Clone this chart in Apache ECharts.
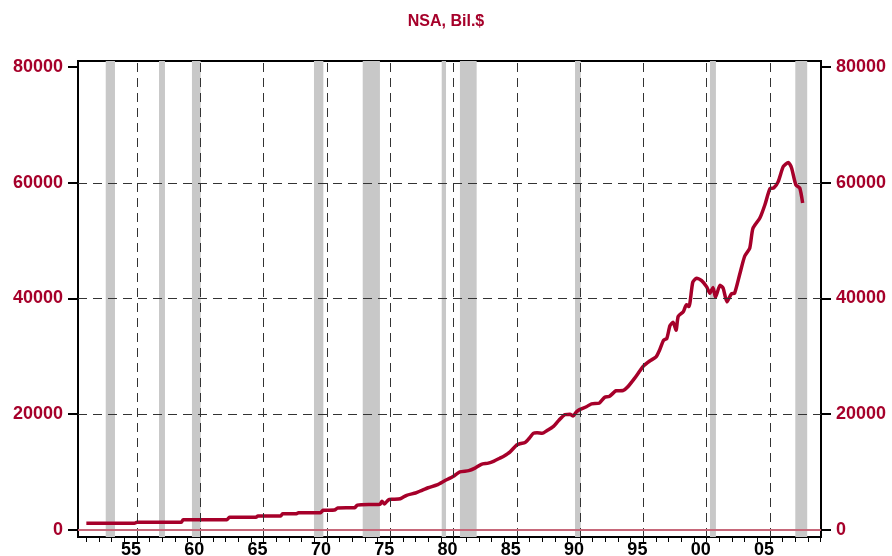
<!DOCTYPE html>
<html>
<head>
<meta charset="utf-8">
<script src="https://cdn.jsdelivr.net/npm/echarts@6/dist/echarts.min.js"></script>
<style>
  html, body { margin: 0; padding: 0; background: #fff; }
  #chart { width: 892px; height: 556px; }
</style>
</head>
<body>
<div id="chart"></div>
<script>
// time in decimal years, value in Bil.$
const years = [
  1951.0, 1954.8, 1955.0, 1958.5, 1958.65, 1962.1, 1962.3, 1964.4, 1964.55, 1966.35,
  1966.5, 1967.6, 1967.75, 1969.5, 1969.7, 1970.6, 1970.85, 1972.2, 1972.4, 1973.6,
  1974.2, 1974.35, 1974.55, 1974.85, 1975.15, 1975.8, 1976.3, 1977.0, 1977.4, 1978.0,
  1978.7, 1979.3, 1980.0, 1980.5, 1981.2, 1981.7, 1982.2, 1982.75, 1983.2, 1983.65,
  1984.0, 1984.45, 1985.0, 1985.3, 1985.65, 1986.0, 1986.3, 1986.6, 1987.0, 1987.4,
  1987.9, 1988.3, 1988.8, 1989.2, 1989.45, 1989.7, 1989.95, 1990.5, 1990.9, 1991.5,
  1991.95, 1992.3, 1992.85, 1993.4, 1993.75, 1994.3, 1995.0, 1995.5, 1996.0, 1996.3,
  1996.6, 1996.85, 1997.1, 1997.35, 1997.58, 1997.75, 1998.15, 1998.4, 1998.6, 1998.9,
  1999.2, 1999.6, 2000.0, 2000.25, 2000.5, 2000.7, 2001.05, 2001.3, 2001.6, 2001.95,
  2002.2, 2002.6, 2003.0, 2003.4, 2003.65, 2004.2, 2004.6, 2005.0, 2005.3, 2005.65,
  2006.05, 2006.45, 2006.7, 2007.05, 2007.35, 2007.58
]
const values = [
  1160, 1160, 1330, 1330, 1780, 1780, 2190, 2190, 2420, 2420,
  2820, 2820, 2990, 2990, 3400, 3460, 3800, 3850, 4300, 4400,
  4450, 4950, 4500, 5200, 5300, 5400, 6000, 6400, 6750, 7300,
  7800, 8500, 9300, 10050, 10250, 10700, 11350, 11550, 11900, 12400,
  12800, 13450, 14700, 14950, 15100, 15900, 16700, 16800, 16700, 17200,
  17900, 18900, 19950, 20000, 19700, 20400, 20800, 21300, 21800, 21900,
  22950, 23050, 24050, 24100, 24700, 26200, 28300, 29200, 29900, 31200,
  32800, 33100, 35300, 35900, 34500, 36900, 37700, 38900, 38600, 42800,
  43500, 43100, 42000, 40900, 41900, 40200, 42300, 41800, 39400, 40800,
  40900, 44100, 47300, 48700, 52100, 53900, 56200, 59000, 59100, 60200,
  62800, 63500, 62600, 59600, 59100, 56500
]

// recession shading, start / end in decimal years
const recessionStart = [1952.53, 1956.74, 1959.34, 1968.98, 1972.83, 1979.07, 1980.51, 1989.6, 2000.26, 2007.0]
const recessionEnd = [1953.26, 1957.21, 1960.03, 1969.72, 1974.19, 1979.41, 1981.83, 1990.05, 2000.73, 2007.94]

const xLabelYears = [1955, 1960, 1965, 1970, 1975, 1980, 1985, 1990, 1995, 2000, 2005]
const xTickYears = []
for (let y = 1951; y <= 2009; y++) xTickYears.push(y)
const yTicks = [0, 20000, 40000, 60000, 80000]
const yGridLines = [20000, 40000, 60000]

const red = '#a6002a'
const chart = echarts.init(document.getElementById('chart'))

const yAxisBase = {
  type: 'value',
  min: -1210,
  max: 81037,
  splitLine: { show: false },
  axisLine: { show: true, lineStyle: { color: '#000', width: 2 } },
  axisTick: { show: true, customValues: yTicks, length: 10, lineStyle: { color: '#000', width: 2 } },
  axisLabel: {
    customValues: yTicks,
    margin: 15,
    color: red,
    fontSize: 18,
    fontWeight: 'bold',
    fontFamily: 'Liberation Sans',
    formatter: v => String(Math.round(v))
  }
}

chart.setOption({
  animation: false,
  title: {
    text: 'NSA, Bil.$',
    left: 'center',
    top: 9,
    textStyle: { color: red, fontSize: 16, fontWeight: 'bold', fontFamily: 'Liberation Sans' }
  },
  grid: {
    left: 78,
    right: 71,
    top: 61,
    bottom: 19,
    outerBoundsMode: 'none',
    show: true,
    borderColor: '#000',
    borderWidth: 2
  },
  xAxis: {
    type: 'value',
    min: 1950.34,
    max: 2009.03,
    splitLine: { show: false },
    axisLine: { show: true, onZero: false, lineStyle: { color: '#000', width: 2 } },
    axisTick: { show: true, customValues: xTickYears, length: 5, lineStyle: { color: '#000', width: 1 } },
    axisLabel: {
      customValues: xLabelYears,
      margin: 4,
      padding: [0, 12, 0, 0],
      color: '#000',
      fontSize: 18,
      fontWeight: 'bold',
      fontFamily: 'Liberation Sans',
      formatter: v => String(Math.round(v) % 100).padStart(2, '0')
    }
  },
  yAxis: [
    Object.assign({}, yAxisBase, { position: 'left' }),
    Object.assign({}, yAxisBase, { position: 'right' })
  ],
  series: [
    {
      name: 'recessions',
      type: 'line',
      data: [],
      z: 1,
      silent: true,
      markArea: {
        silent: true,
        itemStyle: { color: '#c8c8c8' },
        data: recessionStart.map((s, i) => [{ xAxis: s }, { xAxis: recessionEnd[i] }])
      }
    },
    {
      name: 'grid',
      type: 'line',
      data: [],
      z: 2,
      silent: true,
      markLine: {
        silent: true,
        symbol: 'none',
        label: { show: false },
        lineStyle: { color: '#333', width: 1, type: [9, 6] },
        data: xLabelYears.map(v => ({ xAxis: v }))
          .concat(yGridLines.map(v => ({ yAxis: v })))
          .concat([{ yAxis: 0, lineStyle: { color: '#c7687a', width: 2, type: 'solid' } }])
      }
    },
    {
      name: 'NSA',
      type: 'line',
      z: 3,
      showSymbol: false,
      smooth: 0.2,
      lineStyle: { color: red, width: 3.5 },
      data: years.map((y, i) => [y, values[i]])
    }
  ]
})
</script>
</body>
</html>
